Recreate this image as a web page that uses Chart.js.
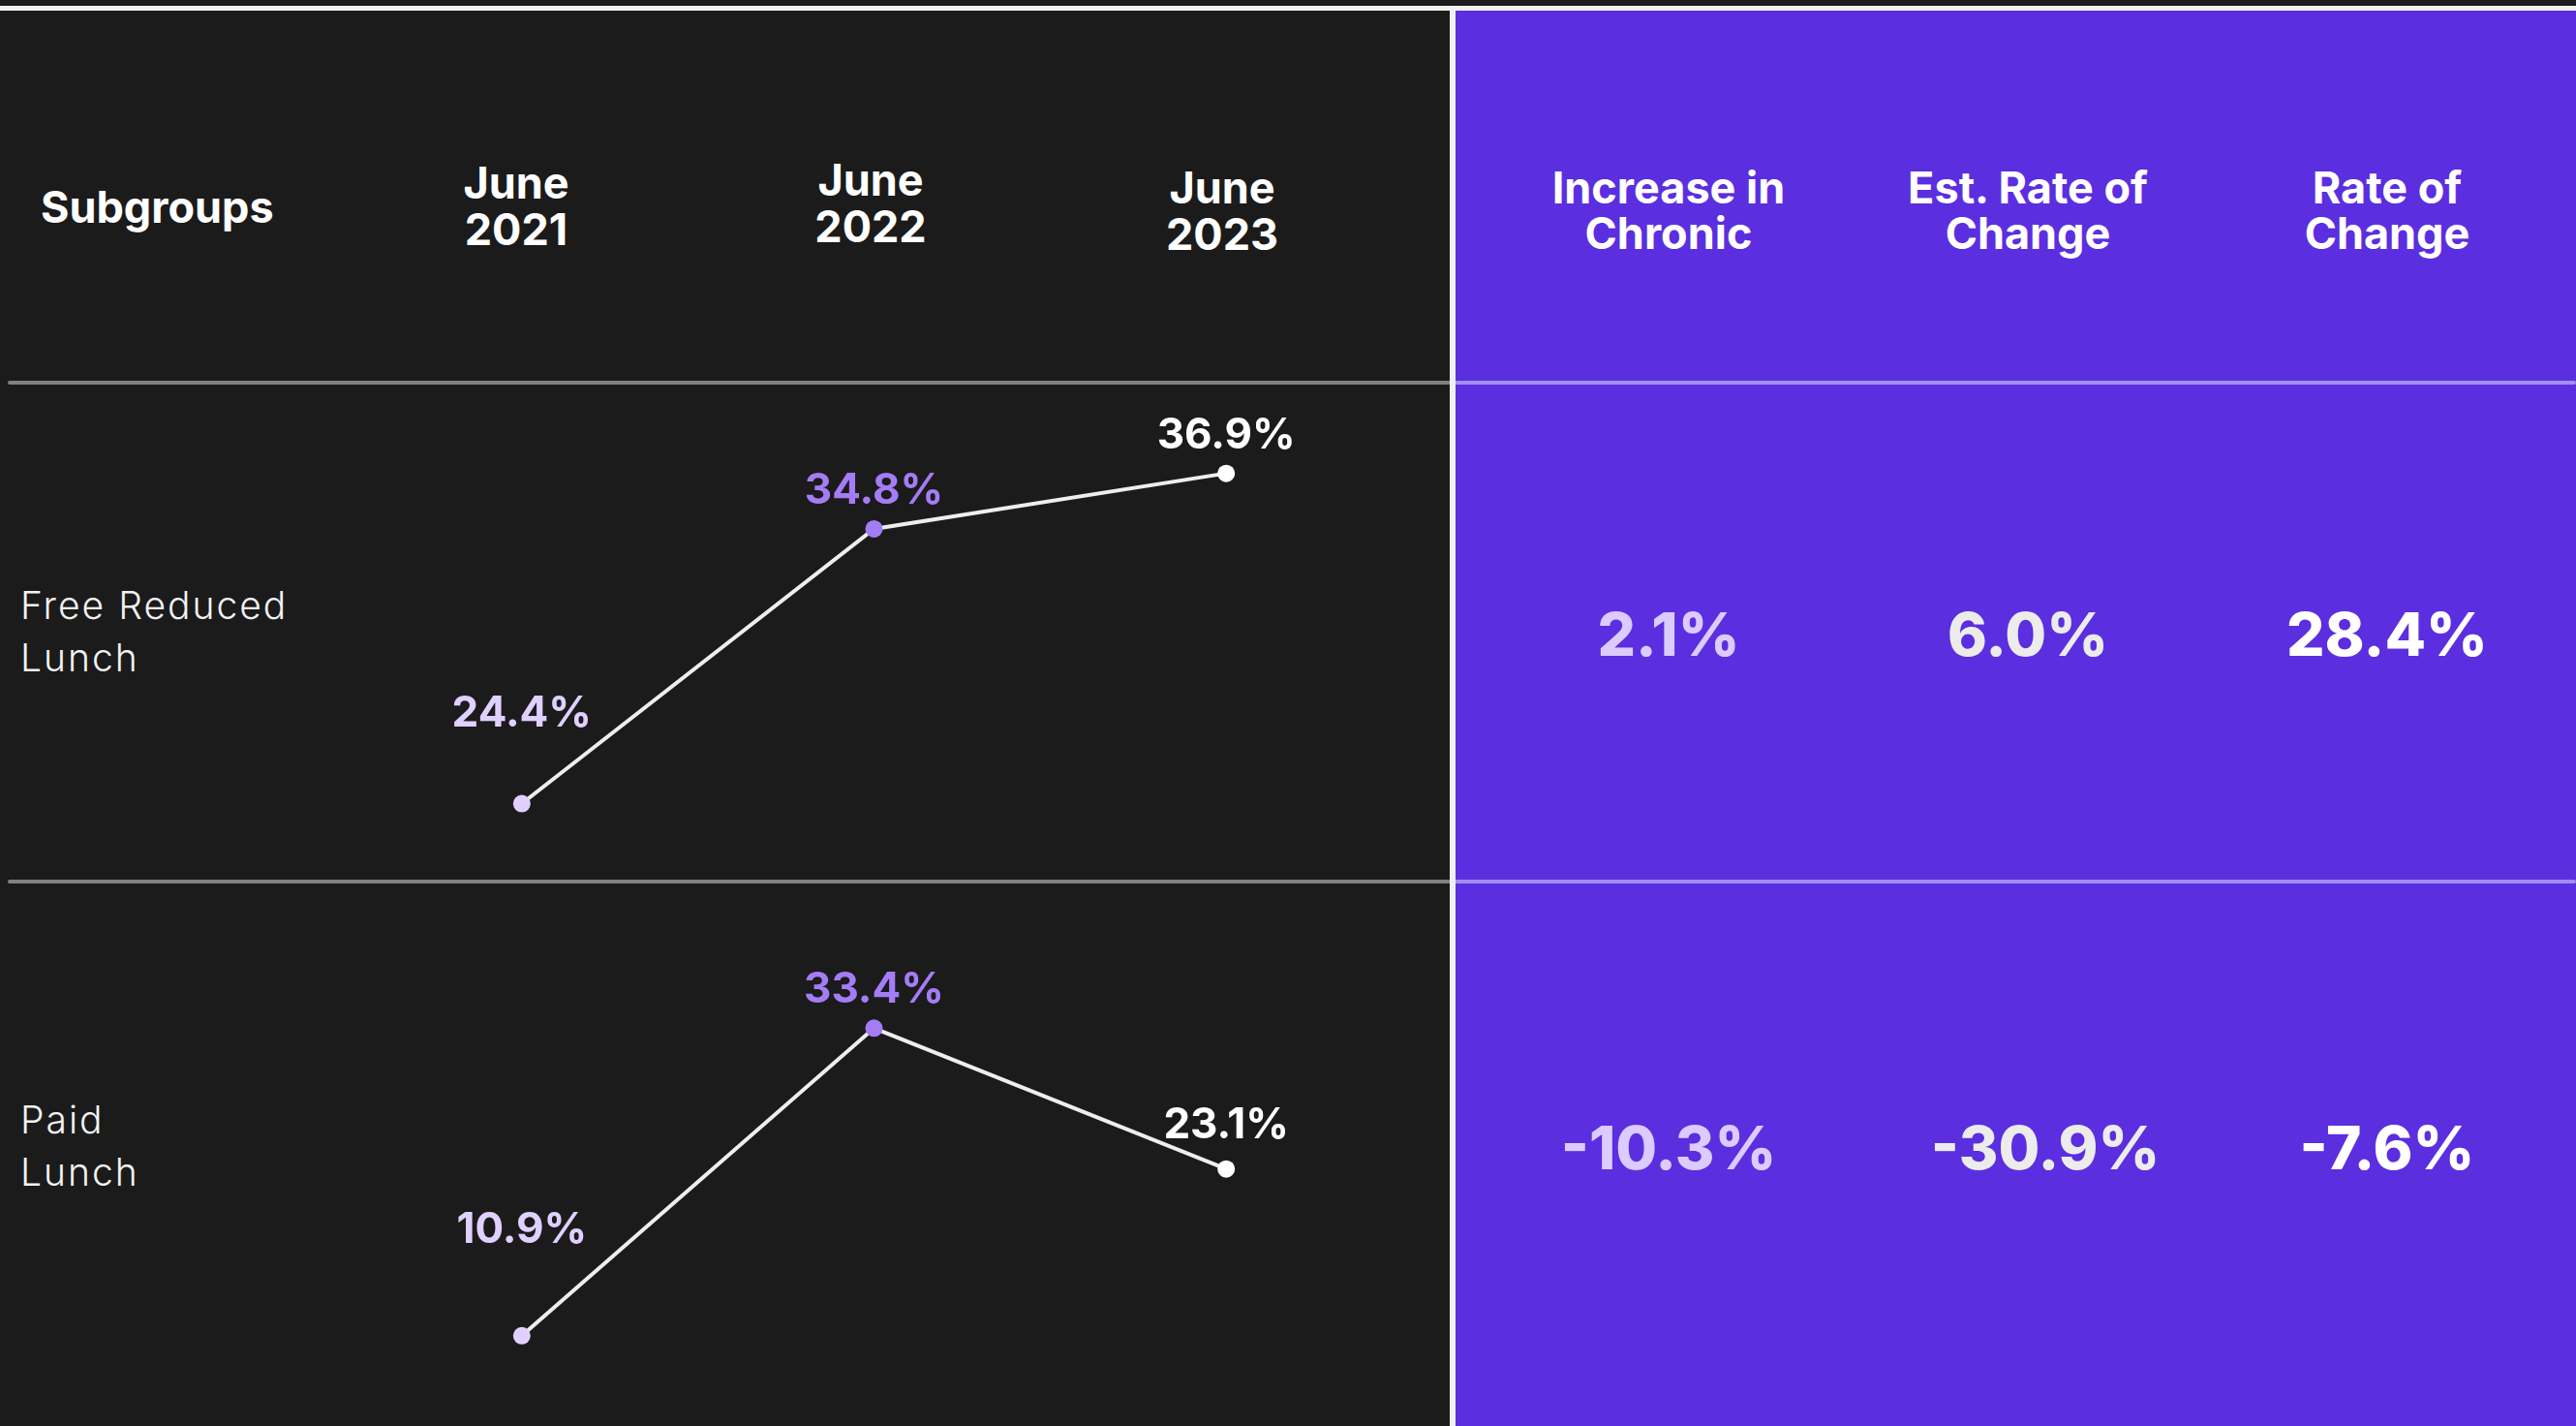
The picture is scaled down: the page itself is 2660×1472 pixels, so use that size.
<!DOCTYPE html>
<html>
<head>
<meta charset="utf-8">
<script src="https://cdn.jsdelivr.net/npm/chart.js@4.4.1/dist/chart.umd.min.js"></script>
<style>
  html, body { margin: 0; padding: 0; }
  body {
    width: 2660px; height: 1472px; position: relative; overflow: hidden;
    background: #1b1b1b; color: #fff;
    font-family: Inter, "Noto Sans", sans-serif;
  }
  .abs { position: absolute; }
  #purple { left: 1503px; top: 11px; width: 1157px; height: 1461px; background: #5b2ee0; }
  #topline { left: 0; top: 6px; width: 2660px; height: 5px; background: #f0f0f0; }
  #divider { left: 1497px; top: 6px; width: 6px; height: 1466px; background: #f0f0f0; }
  .rule { left: 8px; width: 2652px; height: 4px; background: rgba(255, 255, 255, 0.45); border-radius: 2px; }
  .head {
    font-weight: 700; font-size: 45px; line-height: 48px;
    white-space: pre-line; text-align: center; transform: translateX(-50%);
  }
  .sub {
    left: 21px; font-weight: 300; font-size: 39px; line-height: 54px;
    letter-spacing: 2px; white-space: pre-line; color: #f2f2f2;
  }
  .val {
    font-weight: 800; font-size: 62px; line-height: 62px;
    white-space: nowrap; transform: translate(-50%, -50%);
  }
  canvas { position: absolute; }
</style>
</head>
<body>
<div id="purple" class="abs"></div>
<div class="abs rule" style="top:393px"></div>
<div class="abs rule" style="top:908px"></div>
<div id="topline" class="abs"></div>
<div id="divider" class="abs"></div>

<canvas id="row1" width="1109" height="510" style="left:348px; top:397px"></canvas>
<canvas id="row2" width="1109" height="560" style="left:348px; top:912px"></canvas>

<script>
// table content
const years = ['June\n2021', 'June\n2022', 'June\n2023'];
const subgroups = ['Free Reduced\nLunch', 'Paid\nLunch'];
const summaryHeaders = ['Increase in\nChronic', 'Est. Rate of\nChange', 'Rate of\nChange'];

// chronic absence by year, one list per subgroup
const freeReducedLunch = [24.4, 34.8, 36.9];
const paidLunch = [10.9, 33.4, 23.1];

// summary columns, one value per subgroup
const increaseInChronic = [2.1, -10.3];
const estRateOfChange = [6.0, -30.9];
const rateOfChange = [28.4, -7.6];

const pointColors = ['#e0d0ff', '#a47cf5', '#ffffff'];
const summaryColors = ['#dccbff', '#ececec', '#ffffff'];

function addText(cls, text, style) {
    const el = document.createElement('div');
    el.className = 'abs ' + cls;
    el.textContent = text;
    Object.assign(el.style, style);
    document.body.appendChild(el);
}

// headers
addText('head', 'Subgroups', { left: '42px', top: '190px', transform: 'none', textAlign: 'left' });
const yearX = [533, 899, 1262];
const yearTop = [165, 162, 170];
years.forEach((y, i) => addText('head', y, { left: yearX[i] + 'px', top: yearTop[i] + 'px' }));
const colX = [1723, 2094, 2465];
summaryHeaders.forEach((h, i) => addText('head', h, { left: colX[i] + 'px', top: '170px', lineHeight: '47px' }));

// row labels
const rowTop = [598, 1129];
subgroups.forEach((s, i) => addText('sub', s, { top: rowTop[i] + 'px' }));

// summary values
const rowMid = [655, 1185];
const pct = v => v.toFixed(1) + '%';
[increaseInChronic, estRateOfChange, rateOfChange].forEach((col, c) => {
    col.forEach((v, r) => {
        // the -30.9% cell sits a little right of its column in the original
        const x = colX[c] + (c === 1 && r === 1 ? 18 : 0);
        addText('val', pct(v), { left: x + 'px', top: rowMid[r] + 'px', color: summaryColors[c] });
    });
});

// value labels above each point
const pointLabels = {
    id: 'pointLabels',
    afterDatasetsDraw(chart, args, opts) {
        const ctx = chart.ctx;
        const meta = chart.getDatasetMeta(0);
        const values = chart.data.datasets[0].data;
        ctx.save();
        ctx.font = '700 44px Inter';
        ctx.textAlign = 'center';
        ctx.textBaseline = 'alphabetic';
        meta.data.forEach((pt, i) => {
            ctx.fillStyle = pointColors[i];
            ctx.fillText(pct(values[i]), pt.x, pt.y - opts.gaps[i]);
        });
        ctx.restore();
    }
};

function drawRow(id, values, yMin, yMax, gaps) {
    new Chart(document.getElementById(id), {
        type: 'line',
        data: {
            labels: years,
            datasets: [{
                data: values,
                borderColor: '#eeeeee',
                borderWidth: 4,
                tension: 0,
                pointRadius: 9,
                pointHoverRadius: 9,
                pointBorderWidth: 0,
                pointBackgroundColor: pointColors,
                clip: false
            }]
        },
        options: {
            responsive: false,
            animation: false,
            devicePixelRatio: 1,
            events: [],
            layout: { padding: 0 },
            plugins: {
                legend: { display: false },
                tooltip: { enabled: false },
                pointLabels: { gaps: gaps }
            },
            scales: {
                x: { type: 'category', offset: true, display: false },
                y: { display: false, min: yMin, max: yMax }
            }
        },
        plugins: [pointLabels]
    });
}

drawRow('row1', freeReducedLunch, 21.89, 39.93, [80, 26, 26]);
drawRow('row2', paidLunch, 4.93, 43.35, [96, 26, 32]);
</script>
</body>
</html>
